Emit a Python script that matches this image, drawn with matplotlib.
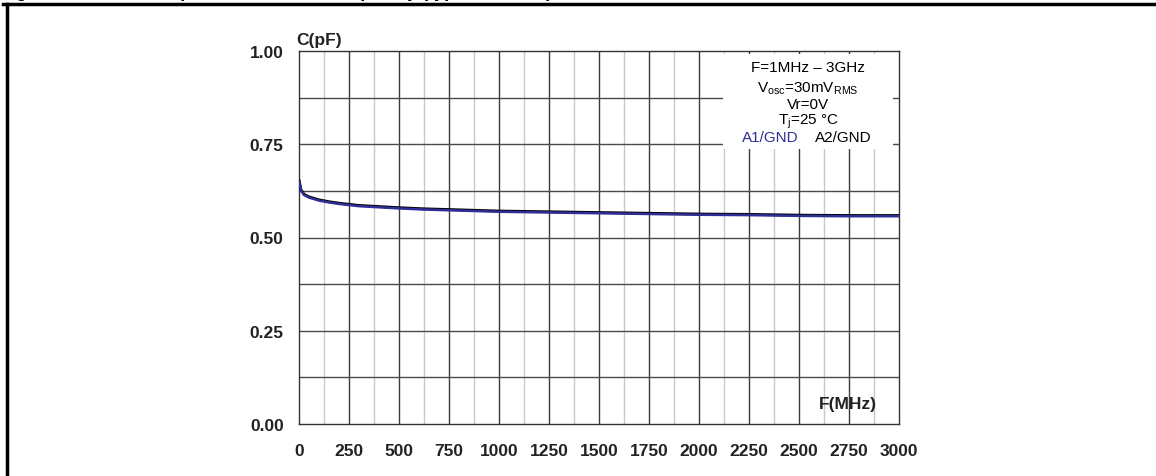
import matplotlib
matplotlib.use("Agg")
import matplotlib.pyplot as plt
from matplotlib.lines import Line2D
import numpy as np

plt.rcParams["font.family"] = ["Liberation Sans", "DejaVu Sans"]

# C(pF) versus F(MHz)
freq = [1, 10, 25, 50, 100, 150, 200, 250, 300, 400, 500, 625, 750, 875, 1000,
        1250, 1500, 1750, 2000, 2250, 2500, 2750, 3000]
c_a2 = [0.652, 0.628, 0.616, 0.609, 0.601, 0.596, 0.592, 0.589, 0.586, 0.583, 0.580,
        0.577, 0.575, 0.573, 0.571, 0.569, 0.567, 0.565, 0.563, 0.562, 0.560, 0.559, 0.559]
c_a1 = [0.650, 0.626, 0.614, 0.607, 0.599, 0.594, 0.590, 0.587, 0.584, 0.581, 0.578,
        0.575, 0.573, 0.571, 0.569, 0.567, 0.565, 0.563, 0.561, 0.560, 0.558, 0.557, 0.557]

x_ticks = [0, 250, 500, 750, 1000, 1250, 1500, 1750, 2000, 2250, 2500, 2750, 3000]
y_ticks = [0.00, 0.25, 0.50, 0.75, 1.00]

legend_lines = ["F=1MHz \u2013 3GHz",
                "V$_{\\mathregular{osc}}$=30mV$_{\\mathregular{RMS}}$",
                "Vr=0V",
                "T$_{\\mathregular{j}}$=25 \u00b0C"]

blue = "#2e2e96"

fig = plt.figure(figsize=(11.56, 4.77), dpi=100)
ax = fig.add_axes([299 / 1156, 52 / 477, 600 / 1156, 373 / 477])

# grid
for xv in np.arange(125, 3000, 250):
    ax.axvline(xv, color="#c8c8c8", lw=1.0, zorder=0)
for xv in x_ticks[1:-1]:
    ax.axvline(xv, color="#3a3a3a", lw=1.0, zorder=0)
for yv in np.arange(0.125, 1.0, 0.125):
    ax.axhline(yv, color="#4a4a4a", lw=1.0, zorder=0)

ax.plot(freq, c_a2, color="black", lw=2.0, zorder=3)
ax.plot(freq, c_a1, color=blue, lw=1.8, zorder=4)

ax.set_xlim(0, 3000)
ax.set_ylim(0, 1)
ax.set_xticks(x_ticks)
ax.set_xticklabels([str(v) for v in x_ticks], fontweight="bold", fontsize=12.5, color="#222222")
ax.set_yticks(y_ticks)
ax.set_yticklabels(["%.2f" % v for v in y_ticks], fontweight="bold", fontsize=12.5, color="#222222")
ax.tick_params(axis="x", length=0, pad=14)
ax.tick_params(axis="y", length=0, pad=11)
for s in ax.spines.values():
    s.set_color("#333333")
    s.set_linewidth(1.0)

# conditions box
ax.add_patch(plt.Rectangle((2120, 0.737), 850, 0.255, facecolor="white",
                           edgecolor="none", zorder=2))
ys = [0.957, 0.903, 0.859, 0.813]
for t, yy in zip(legend_lines, ys):
    ax.text(2545, yy, t, ha="center", va="center", fontsize=11, zorder=5)
ax.text(2355, 0.769, "A1/GND", ha="center", va="center", fontsize=11, color=blue, zorder=5)
ax.text(2720, 0.769, "A2/GND", ha="center", va="center", fontsize=11, zorder=5)

ax.text(2745, 0.055, "F(MHz)", ha="center", va="center", fontsize=12.5,
        fontweight="bold", color="#222222", zorder=5)
fig.text(296 / 1156, 1 - 40 / 477, "C(pF)", ha="left", va="center", fontsize=12.5,
         fontweight="bold", color="#222222")

# page frame and clipped caption
fig.add_artist(Line2D([3 / 1156, 1], [1 - 5 / 477, 1 - 5 / 477], color="black", lw=2.5))
fig.add_artist(Line2D([7 / 1156, 7 / 1156], [0, 1 - 5 / 477], color="black", lw=2.5))
fig.text(0.0, 1 - 1 / 477, "Figure 9. Junction capacitance versus frequency (typical values)",
         ha="left", va="bottom", fontsize=13, fontweight="bold")

fig.savefig("out.png", dpi=100)
